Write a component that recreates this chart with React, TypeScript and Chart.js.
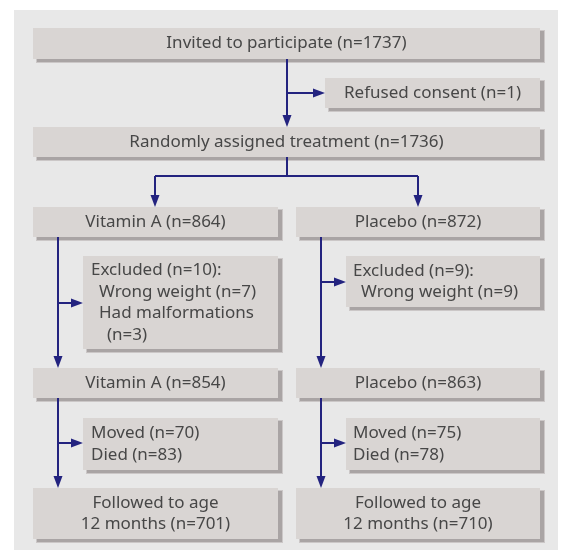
import React, { useEffect, useRef } from "react";
import { Chart, registerables } from "chart.js";

Chart.register(...registerables);

// ---- data (counts) ----
const groupNames = ["Vitamin A", "Placebo"];
const invitedN = [1737];
const refusedN = [1];
const randomisedN = [1736];
const allocatedN = [864, 872];
const excludedN = [10, 9];
const wrongWeightN = [7, 9];
const malformationN = [3, 0];
const analysedN = [854, 863];
const movedN = [70, 75];
const diedN = [83, 78];
const followedN = [701, 710];

// ---- layout (data units of a 563 x 553 canvas grid) ----
type Box = { l: number; t: number; r: number; b: number; lines: string[]; align: "center" | "left"; tx?: number; indents?: number[] };

const boxes: Box[] = [
  { l: 33, t: 28, r: 540, b: 59, lines: [`Invited to participate (n=${invitedN[0]})`], align: "center" },
  { l: 325, t: 78, r: 540, b: 108, lines: [`Refused consent (n=${refusedN[0]})`], align: "center" },
  { l: 33, t: 127, r: 540, b: 157, lines: [`Randomly assigned treatment (n=${randomisedN[0]})`], align: "center" },
  { l: 33, t: 207, r: 278, b: 237, lines: [`${groupNames[0]} (n=${allocatedN[0]})`], align: "center" },
  { l: 296, t: 207, r: 540, b: 237, lines: [`${groupNames[1]} (n=${allocatedN[1]})`], align: "center" },
  {
    l: 83, t: 256, r: 278, b: 349, align: "left", tx: 91, indents: [0, 8, 8, 16],
    lines: [`Excluded (n=${excludedN[0]}):`, `Wrong weight (n=${wrongWeightN[0]})`, `Had malformations`, `(n=${malformationN[0]})`],
  },
  {
    l: 346, t: 256, r: 540, b: 307, align: "left", tx: 353, indents: [0, 8],
    lines: [`Excluded (n=${excludedN[1]}):`, `Wrong weight (n=${wrongWeightN[1]})`],
  },
  { l: 33, t: 368, r: 278, b: 398, lines: [`${groupNames[0]} (n=${analysedN[0]})`], align: "center" },
  { l: 296, t: 368, r: 540, b: 398, lines: [`${groupNames[1]} (n=${analysedN[1]})`], align: "center" },
  { l: 83, t: 418, r: 278, b: 470, align: "left", tx: 91, lines: [`Moved (n=${movedN[0]})`, `Died (n=${diedN[0]})`] },
  { l: 346, t: 418, r: 540, b: 470, align: "left", tx: 353, lines: [`Moved (n=${movedN[1]})`, `Died (n=${diedN[1]})`] },
  { l: 33, t: 488, r: 278, b: 539, lines: ["Followed to age", `12 months (n=${followedN[0]})`], align: "center" },
  { l: 296, t: 488, r: 540, b: 539, lines: ["Followed to age", `12 months (n=${followedN[1]})`], align: "center" },
];

// segments: [x1,y1,x2,y2,arrow]
const links: [number, number, number, number, boolean][] = [
  [287, 59, 287, 127, true],
  [287, 93, 325, 93, true],
  [287, 157, 287, 176, false],
  [155, 176, 418, 176, false],
  [155, 176, 155, 207, true],
  [418, 176, 418, 207, true],
  [58, 237, 58, 368, true],
  [58, 303, 83, 303, true],
  [321, 237, 321, 368, true],
  [321, 282, 346, 282, true],
  [58, 398, 58, 488, true],
  [58, 443, 83, 443, true],
  [321, 398, 321, 488, true],
  [321, 443, 346, 443, true],
];

const FONT = "17px 'Noto Sans', 'Open Sans', sans-serif";

const flowPlugin = {
  id: "flow",
  afterDraw(chart: any) {
    const ctx: CanvasRenderingContext2D = chart.ctx;
    const xs = chart.scales.x;
    const ys = chart.scales.y;
    const X = (v: number) => xs.getPixelForValue(v);
    const Y = (v: number) => ys.getPixelForValue(v);
    ctx.save();
    // panel
    ctx.fillStyle = "#e8e8e8";
    ctx.fillRect(X(14), Y(10), X(558) - X(14), Y(550) - Y(10));
    // boxes
    for (const b of boxes) {
      const l = X(b.l), t = Y(b.t), w = X(b.r) - X(b.l), h = Y(b.b) - Y(b.t);
      ctx.fillStyle = "#cbc7c7";
      ctx.fillRect(l + 3, t + 2, w + 2, h + 2);
      ctx.fillStyle = "#a9a4a4";
      ctx.fillRect(l + 4, t + 3, w, h);
      ctx.fillStyle = "#d9d5d3";
      ctx.fillRect(l, t, w, h);
      ctx.fillStyle = "#474747";
      ctx.font = FONT;
      ctx.textBaseline = "middle";
      const lh = 21.5;
      const n = b.lines.length;
      const cy = t + h / 2;
      b.lines.forEach((s, i) => {
        const y = cy + (i - (n - 1) / 2) * lh;
        if (b.align === "center") {
          ctx.textAlign = "center";
          ctx.fillText(s, l + w / 2, y);
        } else {
          ctx.textAlign = "left";
          ctx.fillText(s, X(b.tx as number) + (b.indents ? b.indents[i] : 0), y);
        }
      });
    }
    // connectors
    ctx.strokeStyle = "#23237f";
    ctx.fillStyle = "#23237f";
    ctx.lineWidth = 2;
    for (const [x1, y1, x2, y2, arrow] of links) {
      const px1 = X(x1), py1 = Y(y1), px2 = X(x2), py2 = Y(y2);
      const ang = Math.atan2(py2 - py1, px2 - px1);
      const len = 12;
      const ex = arrow ? px2 - Math.cos(ang) * (len - 1) : px2;
      const ey = arrow ? py2 - Math.sin(ang) * (len - 1) : py2;
      ctx.beginPath();
      ctx.moveTo(px1, py1);
      ctx.lineTo(ex, ey);
      ctx.stroke();
      if (arrow) {
        const hw = 4.5;
        ctx.beginPath();
        ctx.moveTo(px2, py2);
        ctx.lineTo(px2 - Math.cos(ang) * len - Math.sin(ang) * hw, py2 - Math.sin(ang) * len + Math.cos(ang) * hw);
        ctx.lineTo(px2 - Math.cos(ang) * len + Math.sin(ang) * hw, py2 - Math.sin(ang) * len - Math.cos(ang) * hw);
        ctx.closePath();
        ctx.fill();
      }
    }
    ctx.restore();
  },
};

export default function App() {
  const ref = useRef<HTMLCanvasElement | null>(null);
  useEffect(() => {
    if (!ref.current) return;
    const chart = new Chart(ref.current, {
      type: "scatter",
      data: { datasets: [{ data: [], pointRadius: 0 }] },
      options: {
        animation: false,
        responsive: false,
        events: [],
        layout: { padding: 0 },
        plugins: { legend: { display: false }, tooltip: { enabled: false } },
        scales: {
          x: { type: "linear", min: 0, max: 563, display: false },
          y: { type: "linear", min: 0, max: 553, reverse: true, display: false },
        },
      },
      plugins: [flowPlugin],
    });
    return () => chart.destroy();
  }, []);
  return (
    <div style={{ position: "fixed", left: 0, top: 0, width: 563, height: 553, background: "#fff" }}>
      <canvas ref={ref} width={563} height={553} style={{ width: 563, height: 553, display: "block" }} />
    </div>
  );
}
